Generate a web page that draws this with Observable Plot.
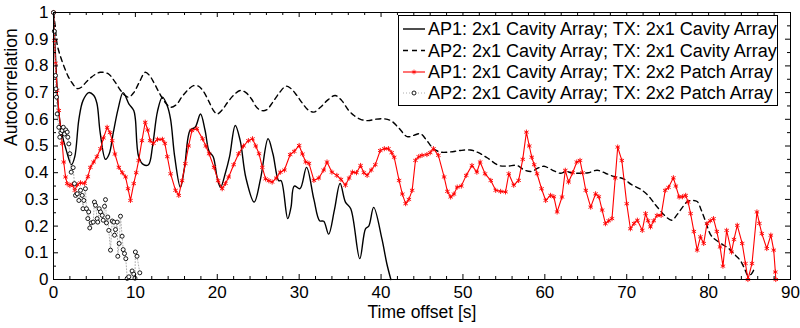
<!DOCTYPE html>
<html><head><meta charset="utf-8">
<script src="https://cdn.jsdelivr.net/npm/d3@7"></script>
<script src="https://cdn.jsdelivr.net/npm/@observablehq/plot@0.6"></script>
<style>
body{margin:0;background:#fff;}
#wrap{position:relative;width:800px;height:328px;overflow:hidden;}
#wrap svg{display:block;}
</style></head><body><div id="wrap"></div>
<script>
// ---- data ----
const ap1CavT = [0,0.3,0.6,1.0,1.6,2.2,2.6,3.1,3.6,4.3,4.9,5.3,5.7,6.35,6.8,7.3,7.9,8.5,9.2,9.8,10.0,10.4,11.0,11.6,12.1,12.7,13.3,13.9,14.3,14.8,15.5,16.0,16.7,17.3,17.95,18.5,19.0,19.5,20.0,20.4,21.0,21.5,22.2,22.8,23.5,24.5,25.3,26.2,26.8,27.5,27.8,28.6,29.0,29.4,30.1,30.9,31.8,32.5,33.0,33.6,34.3,35.0,35.65,36.3,37.4,38.1,38.5,39.1,40.1,40.7,41.2];
const ap1CavV = [1,0.8,0.64,0.55,0.48,0.43,0.46,0.6,0.67,0.70,0.69,0.66,0.55,0.45,0.47,0.55,0.64,0.70,0.658,0.633,0.6,0.46,0.43,0.43,0.5,0.63,0.683,0.65,0.6,0.46,0.345,0.42,0.56,0.57,0.62,0.56,0.48,0.46,0.38,0.345,0.40,0.46,0.577,0.52,0.38,0.29,0.38,0.527,0.47,0.37,0.37,0.228,0.27,0.35,0.34,0.42,0.30,0.22,0.218,0.17,0.26,0.36,0.29,0.265,0.078,0.19,0.20,0.27,0.153,0.06,0.0];

const ap2CavT = [0,0.2,0.45,0.8,1.26,1.8,2.3,2.9,3.4,4.0,4.6,5.2,5.7,6.3,6.8,7.4,8.2,8.7,9.2,9.8,10.5,11.2,11.7,12.3,12.9,13.6,14.3,15.0,15.7,16.4,17.1,17.7,18.3,19.0,19.6,20.0,20.6,21.3,22.0,22.8,23.5,24.2,24.8,25.4,26.0,26.8,27.6,28.4,29.0,29.7,30.4,31.1,31.8,32.6,33.4,34.4,35.2,36.0,36.7,37.5,38.4,39.3,40.3,41.2,42.1,43.2,44.0,44.8,45.6,46.4,47.3,48.5,49.6,50.9,51.9,53.0,54.4,55.5,56.6,57.5,58.4,59.2,59.9,60.9,61.9,62.6,63.2,64.3,65.3,66.4,67.4,68.4,69.6,70.6,71.7,72.6,73.5,74.1,74.8,75.5,76.2,76.8,77.4,77.9,78.6,79.1,79.6,80.2,80.6,81.5,82.5,83.3,83.9,84.4,84.8,85.2,85.5];
const ap2CavV = [1,0.95,0.88,0.84,0.80,0.76,0.735,0.715,0.72,0.74,0.757,0.77,0.776,0.775,0.768,0.745,0.708,0.69,0.683,0.70,0.74,0.776,0.765,0.735,0.70,0.665,0.645,0.655,0.685,0.71,0.726,0.724,0.705,0.665,0.63,0.62,0.635,0.665,0.69,0.708,0.70,0.675,0.645,0.633,0.635,0.665,0.70,0.724,0.715,0.69,0.66,0.635,0.627,0.645,0.67,0.689,0.67,0.635,0.614,0.60,0.595,0.60,0.602,0.595,0.57,0.535,0.54,0.546,0.52,0.49,0.477,0.478,0.483,0.485,0.475,0.455,0.427,0.425,0.427,0.41,0.405,0.418,0.424,0.41,0.398,0.405,0.40,0.398,0.40,0.409,0.398,0.386,0.377,0.355,0.338,0.315,0.28,0.258,0.235,0.222,0.245,0.27,0.292,0.296,0.292,0.26,0.22,0.17,0.155,0.135,0.115,0.09,0.07,0.04,0.015,0.02,0.035];

const ap1PatchT = [0,0.12,0.24,0.45,0.65,0.85,1.06,1.25,1.47,1.67,2.0,2.3,2.6,2.9,3.3,3.8,4.2,4.5,4.9,5.3,5.74,6.1,6.55,6.9,7.17,7.5,7.98,8.4,8.8,9.1,9.4,9.8,10.1,10.4,10.8,11.2,11.5,11.8,12.2,12.7,13.3,13.6,13.9,14.3,14.9,15.3,15.7,16.1,16.5,16.9,17.5,18.2,18.6,19.0,19.6,20.1,20.6,21.0,21.4,22.0,22.6,23.2,23.8,24.3,24.7,25.1,25.5,25.9,26.3,26.7,27.2,27.7,28.2,28.9,29.4,30.0,30.4,30.8,31.2,31.8,32.4,33.0,33.4,34.0,34.6,35.1,35.65,36.1,36.5,37.0,37.5,37.9,38.3,38.8,39.3,39.9,40.4,40.9,41.3,41.6,42.2,42.6,43.0,43.4,43.8,44.2,44.6,45.0,45.6,46.0,46.4,47.0,47.7,48.1,48.5,48.9,49.3,49.8,50.4,51.1,51.7,52.1,52.7,53.4,54.0,54.6,55.2,55.6,56.2,56.8,57.3,57.75,58.1,58.4,58.7,59.05,59.6,60.1,60.7,61.1,61.5,62.1,62.5,62.9,63.4,63.9,64.3,64.6,65.0,65.6,66.2,66.6,67.0,67.4,67.8,68.2,68.6,68.9,69.4,70.0,70.45,70.9,71.3,71.9,72.3,72.6,72.9,73.3,73.7,74.2,74.7,75.1,75.7,76.0,76.4,76.8,77.2,77.5,77.8,78.2,78.6,79.0,79.4,79.8,80.2,80.6,81.0,81.4,81.75,82.2,82.8,83.1,83.5,84.1,84.5,84.8,85.3,85.9,86.2,86.5,87.1,87.6,87.95,88.15,88.2];
const ap1PatchV = [1,0.895,0.81,0.708,0.633,0.57,0.51,0.44,0.384,0.359,0.352,0.356,0.334,0.355,0.362,0.36,0.385,0.42,0.44,0.46,0.49,0.53,0.57,0.55,0.52,0.47,0.42,0.40,0.384,0.34,0.296,0.359,0.40,0.446,0.52,0.589,0.56,0.52,0.51,0.525,0.525,0.51,0.46,0.396,0.334,0.315,0.37,0.434,0.50,0.558,0.565,0.527,0.50,0.471,0.42,0.37,0.34,0.36,0.384,0.43,0.471,0.50,0.52,0.527,0.50,0.471,0.42,0.377,0.37,0.365,0.38,0.402,0.41,0.468,0.48,0.502,0.47,0.44,0.435,0.371,0.38,0.41,0.44,0.402,0.39,0.375,0.353,0.38,0.402,0.40,0.427,0.40,0.39,0.41,0.43,0.483,0.49,0.49,0.475,0.458,0.371,0.32,0.284,0.30,0.334,0.446,0.46,0.465,0.468,0.475,0.49,0.465,0.384,0.33,0.309,0.32,0.346,0.35,0.39,0.427,0.402,0.44,0.396,0.371,0.334,0.33,0.328,0.396,0.353,0.371,0.45,0.552,0.50,0.458,0.43,0.396,0.34,0.296,0.315,0.31,0.253,0.309,0.409,0.365,0.40,0.44,0.446,0.40,0.334,0.271,0.321,0.31,0.26,0.209,0.22,0.228,0.38,0.496,0.446,0.284,0.19,0.21,0.222,0.184,0.247,0.22,0.197,0.22,0.24,0.24,0.334,0.345,0.381,0.35,0.309,0.31,0.315,0.29,0.247,0.18,0.11,0.16,0.135,0.209,0.22,0.228,0.18,0.122,0.05,0.184,0.103,0.15,0.203,0.135,0.06,0.0,0.06,0.253,0.21,0.172,0.116,0.166,0.11,0.028,0];

const ap2PatchT = [0,0.1,0.24,0.3,0.37,0.45,0.65,0.77,0.9,1.06,1.2,1.35,1.5,1.67,1.75,1.87,2.0,2.16,2.4,2.56,2.69,2.9,3.1,3.3,3.5,3.6,3.7,3.9,4.03,4.19,4.3,4.43,4.6,4.85,5.0,5.13,5.33,5.4,5.58,5.74,5.95,6.07,6.23,6.35,6.47,6.63,6.75,6.96,7.17,7.37,7.45,7.57,7.78,7.85,8.02,8.18,8.38,8.51,8.67,8.83,9.0,9.2,9.6,9.8,9.95,10.0,10.2,10.54];
const ap2PatchV = [1,0.93,0.764,0.714,0.683,0.62,0.57,0.533,0.55,0.558,0.57,0.545,0.56,0.552,0.533,0.508,0.471,0.402,0.419,0.359,0.315,0.321,0.296,0.334,0.315,0.265,0.296,0.34,0.265,0.228,0.253,0.193,0.212,0.215,0.29,0.278,0.228,0.215,0.265,0.253,0.24,0.222,0.274,0.299,0.212,0.234,0.184,0.11,0.219,0.215,0.166,0.187,0.215,0.087,0.135,0.237,0.162,0.112,0.097,0.078,0.004,0.01,0.032,0.02,0.005,0.103,0.087,0.025];

const xTicks = [0,10,20,30,40,50,60,70,80,90];
const xTickLabels = ["0","10","20","30","40","50","60","70","80","90"];
const xMinor = [2,4,6,8,12,14,16,18,22,24,26,28,32,34,36,38,42,44,46,48,52,54,56,58,62,64,66,68,72,74,76,78,82,84,86,88];
const yTicks = [0,0.1,0.2,0.3,0.4,0.5,0.6,0.7,0.8,0.9,1];
const yTickLabels = ["0","0.1","0.2","0.3","0.4","0.5","0.6","0.7","0.8","0.9","1"];
const yMinor = [0.05,0.15,0.25,0.35,0.45,0.55,0.65,0.75,0.85,0.95];
const xLabel = "Time offset [s]";
const yLabel = "Autocorrelation";
const seriesNames = [
  "AP1: 2x1 Cavity Array; TX: 2x1 Cavity Array",
  "AP2: 2x1 Cavity Array; TX: 2x1 Cavity Array",
  "AP1: 2x1 Cavity Array; TX: 2x2 Patch Array",
  "AP2: 2x1 Cavity Array; TX: 2x2 Patch Array"
];

// ---- build tables ----
const toRows = (T, V) => T.map((t, i) => ({t, v: V[i]}));
const ap1Cav = toRows(ap1CavT, ap1CavV);
const ap2Cav = toRows(ap2CavT, ap2CavV);
const ap1Patch = toRows(ap1PatchT, ap1PatchV);
const ap2Patch = toRows(ap2PatchT, ap2PatchV);

const W = 800, H = 328, mL = 53, mR = 10, mT = 12, mB = 49;
const ph = H - mT - mB;
const pw = W - mL - mR;
const FONT = "'Liberation Sans', Arial, Helvetica, sans-serif";
const TL = 5, TLm = 3;

const chart = Plot.plot({
  width: W, height: H,
  marginLeft: mL, marginRight: mR, marginTop: mT, marginBottom: mB,
  style: {fontFamily: FONT, fontSize: "17px", background: "white", color: "black", overflow: "visible"},
  x: {domain: [0, 90]},
  y: {domain: [0, 1]},
  marks: [
    Plot.line(ap1Cav, {x: "t", y: "v", stroke: "black", strokeWidth: 1.4, curve: "catmull-rom"}),
    Plot.line(ap2Cav, {x: "t", y: "v", stroke: "black", strokeWidth: 1.4, strokeDasharray: "5,4", curve: "catmull-rom"}),
    Plot.line(ap1Patch, {x: "t", y: "v", stroke: "#ff0000", strokeWidth: 1.1}),
    Plot.dot(ap1Patch, {x: "t", y: "v", symbol: "asterisk", r: 2.4, stroke: "#ff0000", strokeWidth: 0.9}),
    Plot.line(ap2Patch, {x: "t", y: "v", stroke: "#999", strokeWidth: 0.8, strokeDasharray: "1,2"}),
    Plot.dot(ap2Patch, {x: "t", y: "v", r: 2, stroke: "black", fill: "white", strokeWidth: 0.9}),
    Plot.frame({stroke: "black", strokeWidth: 1}),
    // inward ticks on all four sides
    Plot.ruleX(xTicks, {x: d => d, insetTop: ph - TL, stroke: "black"}),
    Plot.ruleX(xTicks, {x: d => d, insetBottom: ph - TL, stroke: "black"}),
    Plot.ruleX(xMinor, {x: d => d, insetTop: ph - TLm, stroke: "black"}),
    Plot.ruleX(xMinor, {x: d => d, insetBottom: ph - TLm, stroke: "black"}),
    Plot.ruleY(yTicks, {y: d => d, insetRight: pw - TL, stroke: "black"}),
    Plot.ruleY(yTicks, {y: d => d, insetLeft: pw - TL, stroke: "black"}),
    Plot.ruleY(yMinor, {y: d => d, insetRight: pw - TLm, stroke: "black"}),
    Plot.ruleY(yMinor, {y: d => d, insetLeft: pw - TLm, stroke: "black"}),
    Plot.axisX(xTicks, {tickSize: 0, tickPadding: 6, tickFormat: (d) => xTickLabels[xTicks.indexOf(d)], label: null, fontSize: 17}),
    Plot.axisY(yTicks, {tickSize: 0, tickPadding: 5, tickFormat: (d) => yTickLabels[yTicks.indexOf(d)], label: null, fontSize: 17}),
    Plot.text([xLabel], {text: d => d, frameAnchor: "bottom", dy: 38, fontSize: 17.5}),
    Plot.text([yLabel], {text: d => d, frameAnchor: "left", dx: -42, rotate: -90, fontSize: 17.5})
  ]
});
document.getElementById("wrap").appendChild(chart);

// ---- legend (inside plot, top-right) ----
const lg = d3.select("#wrap").append("svg")
  .attr("width", W).attr("height", H)
  .style("position", "absolute").style("left", "0px").style("top", "0px")
  .style("font-family", FONT).style("font-size", "18px");
const bx = 398, by = 15, bw = 379, bh = 90;
lg.append("rect").attr("x", bx + 0.5).attr("y", by + 0.5).attr("width", bw).attr("height", bh)
  .attr("fill", "white").attr("stroke", "black").attr("stroke-width", 1);
const rowY = [29, 50.5, 72, 93];
const styles = [
  {stroke: "black", dash: null, w: 1.4},
  {stroke: "black", dash: "5,4", w: 1.4},
  {stroke: "#ff0000", dash: null, w: 1.1},
  {stroke: "#999", dash: "1,2", w: 0.8}
];
seriesNames.forEach((name, i) => {
  const y = rowY[i], s = styles[i];
  lg.append("line").attr("x1", 403).attr("x2", 425).attr("y1", y).attr("y2", y)
    .attr("stroke", s.stroke).attr("stroke-width", s.w).attr("stroke-dasharray", s.dash);
  if (i === 2) {
    const sym = d3.symbol(d3.symbolAsterisk, 16)();
    lg.append("path").attr("d", sym).attr("transform", `translate(414,${y})`)
      .attr("stroke", "#ff0000").attr("fill", "none").attr("stroke-width", 0.8);
  }
  if (i === 3) {
    lg.append("circle").attr("cx", 414).attr("cy", y).attr("r", 2)
      .attr("stroke", "black").attr("fill", "white").attr("stroke-width", 0.9);
  }
  lg.append("text").attr("x", 428).attr("y", y).attr("dy", "0.35em").text(name);
});
</script>
</body></html>
